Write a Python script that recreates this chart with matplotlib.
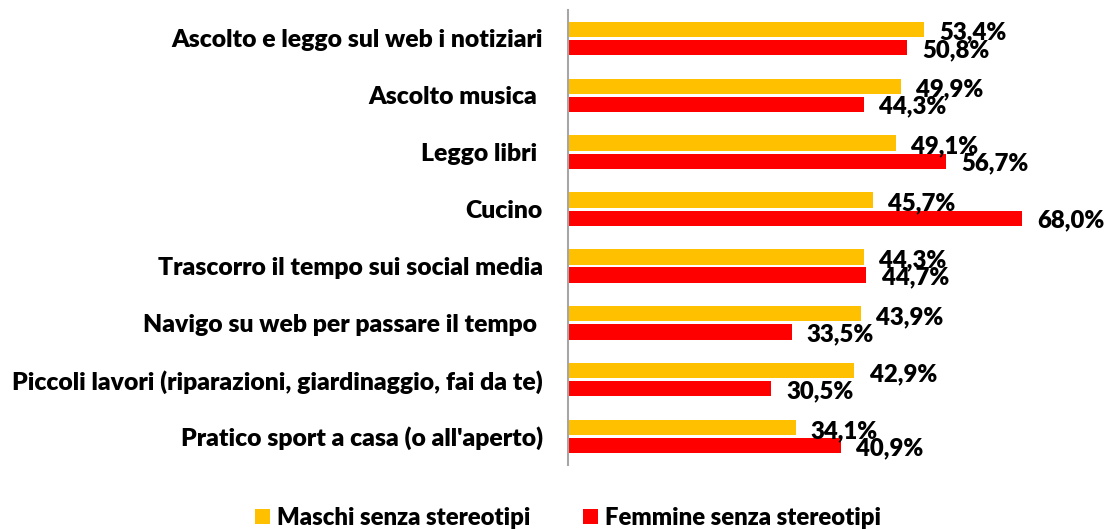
import numpy as np
import matplotlib.pyplot as plt

categories = [
    "Ascolto e leggo sul web i notiziari",
    "Ascolto musica ",
    "Leggo libri ",
    "Cucino",
    "Trascorro il tempo sui social media",
    "Navigo su web per passare il tempo ",
    "Piccoli lavori (riparazioni, giardinaggio, fai da te)",
    "Pratico sport a casa (o all'aperto)",
]
maschi = [53.4, 49.9, 49.1, 45.7, 44.3, 43.9, 42.9, 34.1]
femmine = [50.8, 44.3, 56.7, 68.0, 44.7, 33.5, 30.5, 40.9]
series_names = ["Maschi senza stereotipi", "Femmine senza stereotipi"]

plt.rcParams['font.family'] = ['Lato', 'DejaVu Sans']

fig = plt.figure(figsize=(11.07, 5.29), dpi=100)
ax = fig.add_axes([0.513, 0.121, 0.48, 0.860])

y = np.arange(len(categories))
h = 0.27
b1 = ax.barh(y - 0.16, maschi, height=h, color='#FFC000', label=series_names[0])
b2 = ax.barh(y + 0.16, femmine, height=h, color='#FF0000', label=series_names[1])

for vals, dy in [(maschi, -0.10), (femmine, 0.20)]:
    for yi, v in zip(y, vals):
        ax.annotate(f"{v:.1f}%".replace('.', ','), (v, yi + dy), xytext=(11, 0),
                    textcoords='offset points', va='center', ha='left',
                    fontsize=17.2, fontweight='heavy')

ax.set_ylim(7.5, -0.5)
ax.set_xlim(0, 79.6)
ax.set_yticks(y)
ax.set_yticklabels(categories, fontsize=17.8, fontweight='heavy')
ax.tick_params(axis='y', length=0, pad=18)
ax.set_xticks([])
for s in ['top', 'right', 'bottom']:
    ax.spines[s].set_visible(False)
ax.spines['left'].set_color('#A6A6A6')
ax.spines['left'].set_linewidth(1.5)

fig.legend(handles=[b1, b2], loc='center', bbox_to_anchor=(0.513, 0.021),
           ncol=2, frameon=False, prop={'size': 17.2, 'weight': 'heavy'},
           handlelength=0.63, handleheight=0.63,
           columnspacing=2.2, handletextpad=0.3, borderpad=0)

fig.savefig('out.png', dpi=100)
